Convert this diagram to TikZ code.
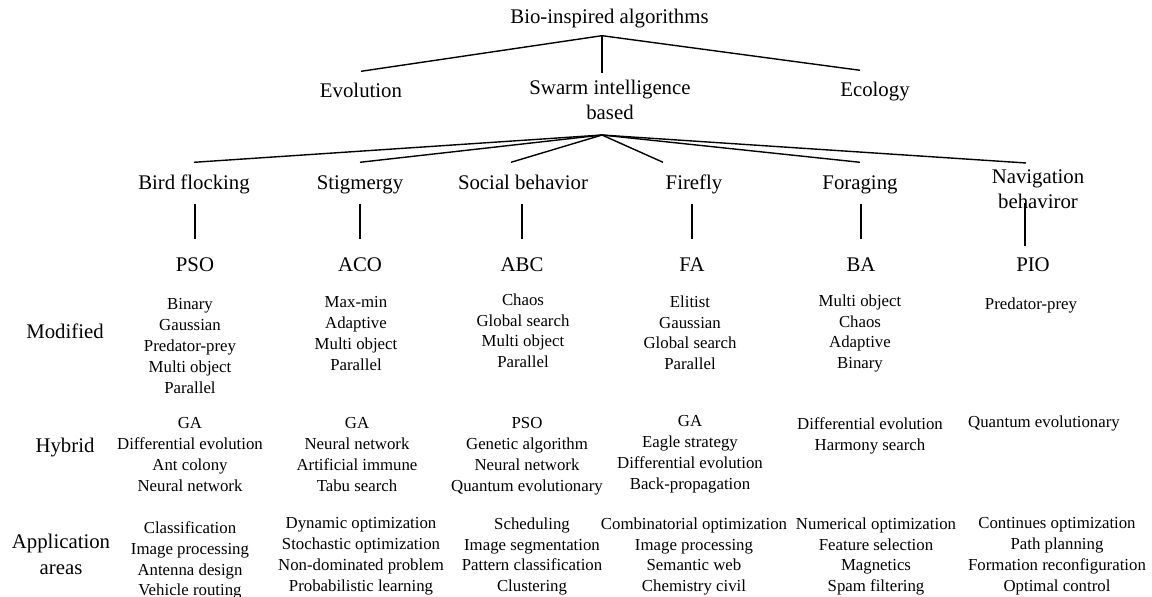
\documentclass[tikz,border=0pt]{standalone}
\usepackage{fontspec}
\setmainfont{Liberation Serif}

\begin{document}
\begin{tikzpicture}[x=0.5pt,y=-0.5pt,line width=0.7pt,
  big/.style={font=\fontsize{10.4}{12.5}\selectfont, inner xsep=0pt, text height=7.5pt, text depth=0.5pt, anchor=base},
  root/.style={big, inner ysep=5pt},
  fam/.style={big, inner ysep=5.5pt},
  cat/.style={big, inner ysep=6pt},
  algo/.style={big, inner ysep=8.5pt},
  twoline/.style={font=\fontsize{10.4}{12.5}\selectfont, align=center, inner xsep=0pt, inner ysep=3pt, anchor=north},
  rowlab/.style={big, inner ysep=0pt},
  lst/.style={font=\fontsize{8.4}{10.4}\selectfont, align=center, inner sep=0pt, anchor=north}]
\useasboundingbox (0,0) rectangle (1152,597);

\node[root](Bio) at (609.5,24) {Bio-inspired algorithms};

\node[fam](Evo) at (361,98) {Evolution};
\node[twoline](Swarm) at (610,73) {Swarm intelligence\\based};
\node[fam](Eco) at (875,97) {Ecology};

\node[cat](Bird) at (194,190) {Bird flocking};
\node[cat](Stig) at (360,190) {Stigmergy};
\node[cat](Soc) at (523,190) {Social behavior};
\node[cat](Fire) at (694,190) {Firefly};
\node[cat](Forag) at (860,190) {Foraging};
\node[twoline](Nav) at (1038,163) {Navigation\\behaviror};

\node[algo](PSO) at (195,272) {PSO};
\node[algo](ACO) at (360,272) {ACO};
\node[algo](ABC) at (522,272) {ABC};
\node[algo](FA) at (692,272) {FA};
\node[algo](BA) at (861,272) {BA};
\node[algo](PIO) at (1033,272) {PIO};

\node[rowlab](Mod) at (65,339) {Modified};
\node[rowlab](Hyb) at (65,453) {Hybrid};
\node[lst, font=\fontsize{10.4}{13}\selectfont](App) at (61,533) {Application\\areas};

\node[lst](M1) at (190,298) {Binary\\Gaussian\\Predator-prey\\Multi object\\Parallel};
\node[lst](M2) at (356,296) {Max-min\\Adaptive\\Multi object\\Parallel};
\node[lst](M3) at (523,293) {Chaos\\Global search\\Multi object\\Parallel};
\node[lst](M4) at (690,295) {Elitist\\Gaussian\\Global search\\Parallel};
\node[lst](M5) at (860,294) {Multi object\\Chaos\\Adaptive\\Binary};
\node[lst](M6) at (1031,297) {Predator-prey};

\node[lst](H1) at (190,417) {GA\\Differential evolution\\Ant colony\\Neural network};
\node[lst](H2) at (357,417) {GA\\Neural network\\Artificial immune\\Tabu search};
\node[lst](H3) at (527,417) {PSO\\Genetic algorithm\\Neural network\\Quantum evolutionary};
\node[lst](H4) at (690,415) {GA\\Eagle strategy\\Differential evolution\\Back-propagation};
\node[lst](H5) at (870,417) {Differential evolution\\Harmony search};
\node[lst](H6) at (1044,415) {Quantum evolutionary};

\node[lst](P1) at (190,521) {Classification\\Image processing\\Antenna design\\Vehicle routing};
\node[lst](P2) at (361,517) {Dynamic optimization\\Stochastic optimization\\Non-dominated problem\\Probabilistic learning};
\node[lst](P3) at (532,517) {Scheduling\\Image segmentation\\Pattern classification\\Clustering};
\node[lst](P4) at (694,517) {Combinatorial optimization\\Image processing\\Semantic web\\Chemistry civil};
\node[lst](P5) at (876,517) {Numerical optimization\\Feature selection\\Magnetics\\Spam filtering};
\node[lst](P6) at (1057,517) {Continues optimization\\Path planning\\Formation reconfiguration\\Optimal control};

% forks
\coordinate (J0) at ([xshift=-3.75pt]Bio.south);
\coordinate (J1) at ([xshift=-4pt,yshift=-4.5pt]Swarm.south);

\draw[-] (J0) -- (Evo.north);
\draw[-] (J0) -- ([xshift=-4pt]Swarm.north);
\draw[-] (J0) -- ([xshift=-7.5pt]Eco.north);

\draw[-] (J1) -- (Bird.north);
\draw[-] (J1) -- (Stig.north);
\draw[-] (J1) -- ([xshift=-6pt]Soc.north);
\draw[-] (J1) -- ([xshift=-15.5pt]Fire.north);
\draw[-] (J1) -- (Forag.north);
\draw[-] (J1) -- ([xshift=-6pt]Nav.north);

\draw[-] (Bird.south -| PSO.north) -- (PSO.north);
\draw[-] (Stig.south -| ACO.north) -- (ACO.north);
\draw[-] (Soc.south -| ABC.north) -- (ABC.north);
\draw[-] (Fire.south -| FA.north) -- (FA.north);
\draw[-] (Forag.south -| BA.north) -- (BA.north);
\draw[-] ([xshift=-6.5pt,yshift=6pt]Nav.south) -- ([xshift=-4pt,yshift=-3.5pt]PIO.north);
\end{tikzpicture}
\end{document}
